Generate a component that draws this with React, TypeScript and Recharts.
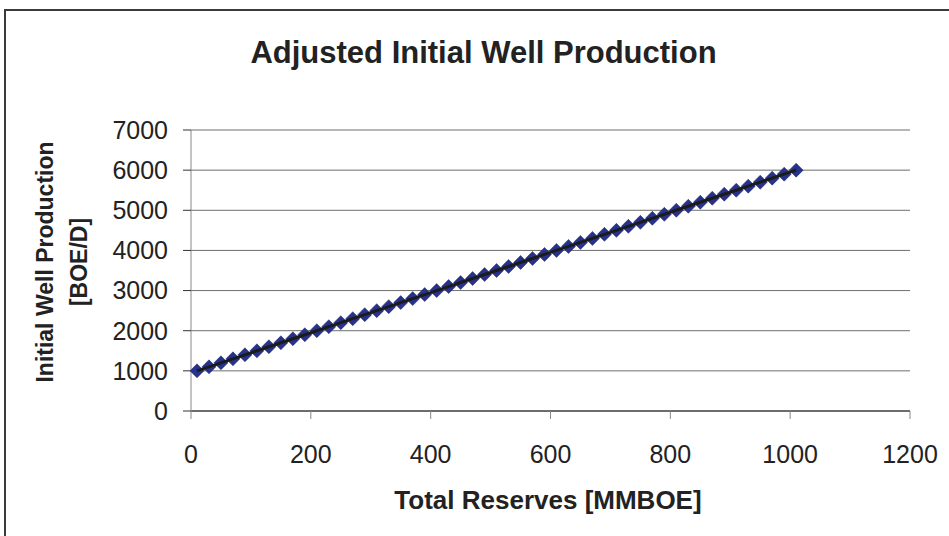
import { CartesianGrid, Scatter, ScatterChart, XAxis, YAxis } from "recharts"

const FONT = "'Liberation Sans', Arial, sans-serif"

// total reserves (MMBOE) and the matching initial well production (BOE/D)
const reserves = [
    10, 30, 50, 70, 90, 110, 130, 150, 170, 190,
    210, 230, 250, 270, 290, 310, 330, 350, 370, 390,
    410, 430, 450, 470, 490, 510, 530, 550, 570, 590,
    610, 630, 650, 670, 690, 710, 730, 750, 770, 790,
    810, 830, 850, 870, 890, 910, 930, 950, 970, 990,
    1010,
]
const production = [
    1000, 1100, 1200, 1300, 1400, 1500, 1600, 1700, 1800, 1900,
    2000, 2100, 2200, 2300, 2400, 2500, 2600, 2700, 2800, 2900,
    3000, 3100, 3200, 3300, 3400, 3500, 3600, 3700, 3800, 3900,
    4000, 4100, 4200, 4300, 4400, 4500, 4600, 4700, 4800, 4900,
    5000, 5100, 5200, 5300, 5400, 5500, 5600, 5700, 5800, 5900,
    6000,
]
const xTicks = [0, 200, 400, 600, 800, 1000, 1200]
const yTicks = [0, 1000, 2000, 3000, 4000, 5000, 6000, 7000]

const points = reserves.map((x, i) => ({ x, y: production[i] }))

const Diamond = (props: any) => {
    const { cx, cy } = props
    const r = 7
    return (
        <polygon
            points={`${cx},${cy - r} ${cx + r},${cy} ${cx},${cy + r} ${cx - r},${cy}`}
            fill="#27328a"
            stroke="#1c2470"
            strokeWidth={0.5}
        />
    )
}

const NoMarker = () => <g />

const XTitle = () => (
    <text x={548} y={509} textAnchor="middle" fontFamily={FONT} fontSize={26} fontWeight="bold" fill="#222">
        Total Reserves [MMBOE]
    </text>
)

const YTitle = () => (
    <g fontFamily={FONT} fontSize={23} fontWeight="bold" fill="#222">
        <text x={45} y={262} transform="rotate(-90, 45, 262)" textAnchor="middle" dominantBaseline="central">
            Initial Well Production
        </text>
        <text x={79} y={262} transform="rotate(-90, 79, 262)" textAnchor="middle" dominantBaseline="central">
            [BOE/D]
        </text>
    </g>
)

export default function App() {
    return (
        <div style={{ position: "absolute", left: 0, top: 0, width: 949, height: 536, background: "#fff", overflow: "hidden" }}>
            <div
                style={{
                    position: "absolute",
                    left: 4,
                    top: 9,
                    width: 1000,
                    height: 600,
                    borderLeft: "2px solid #3a3a3a",
                    borderTop: "2px solid #3a3a3a",
                }}
            />
            <div
                style={{
                    position: "absolute",
                    left: 0,
                    top: 37,
                    width: 967,
                    textAlign: "center",
                    fontFamily: FONT,
                    fontSize: 31,
                    lineHeight: "31px",
                    fontWeight: "bold",
                    color: "#222",
                }}
            >
                Adjusted Initial Well Production
            </div>
            <div style={{ position: "absolute", left: 0, top: 0 }}>
                <ScatterChart width={949} height={536} margin={{ top: 130, right: 39, left: 0, bottom: 0 }}>
                    <CartesianGrid vertical={false} stroke="#6f6f6f" />
                    <XAxis
                        type="number"
                        dataKey="x"
                        domain={[0, 1200]}
                        ticks={xTicks}
                        height={125}
                        tickSize={8}
                        tickMargin={26}
                        axisLine={{ stroke: "#222" }}
                        tickLine={{ stroke: "#888" }}
                        tick={{ fill: "#222", fontSize: 25, fontFamily: FONT }}
                        label={<XTitle />}
                    />
                    <YAxis
                        type="number"
                        dataKey="y"
                        domain={[0, 7000]}
                        ticks={yTicks}
                        width={191}
                        tickSize={8}
                        tickMargin={15}
                        axisLine={{ stroke: "#888" }}
                        tickLine={{ stroke: "#333" }}
                        tick={{ fill: "#222", fontSize: 25, fontFamily: FONT }}
                        label={<YTitle />}
                    />
                    <Scatter data={points} shape={Diamond} isAnimationActive={false} />
                    <Scatter
                        data={points}
                        shape={NoMarker}
                        line={{ stroke: "#1b1b1b", strokeWidth: 3 }}
                        isAnimationActive={false}
                    />
                </ScatterChart>
            </div>
        </div>
    )
}
